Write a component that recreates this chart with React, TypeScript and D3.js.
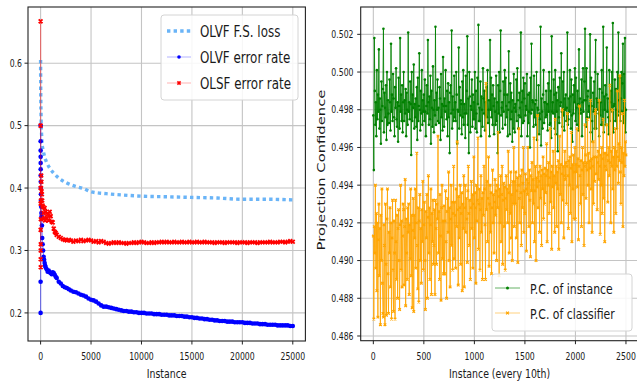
import React from 'react';
import * as d3 from 'd3';

const W = 637;
const H = 381;

// ---------- Left panel data ----------
const lossInstances = [0, 5, 10, 20, 40, 60, 100, 150, 250, 400, 630, 900, 1290, 1800, 2600, 3400, 4260, 5000, 6500, 8000, 10000, 12500, 15000, 17500, 20000, 22500, 25000];
const olvfFSLoss = [0.605, 0.58, 0.56, 0.54, 0.52, 0.5, 0.485, 0.47, 0.461, 0.45, 0.44, 0.432, 0.424, 0.416, 0.408, 0.403, 0.399, 0.394, 0.391, 0.389, 0.387, 0.386, 0.385, 0.384, 0.382, 0.382, 0.381];

const errHeadInstances = [0, 1, 2, 3, 4, 5, 6, 8, 10, 15, 20, 30, 40, 60, 80, 100, 130, 160, 200, 250, 300, 350, 400, 450, 500, 600, 700, 800, 900, 1000, 1100, 1200, 1300, 1400, 1500, 1600, 1800, 2000, 2200, 2400, 2600, 2800];
const errTailStart = 3000;
const errTailStep = 250;

const olvfErrorRate = [
  0.2, 0.25, 0.5, 0.475, 0.46, 0.45, 0.44, 0.43, 0.42, 0.41, 0.4, 0.39, 0.38, 0.37, 0.36, 0.355, 0.34, 0.32, 0.31, 0.3, 0.29,
  0.285, 0.28, 0.276, 0.273, 0.27, 0.266, 0.268, 0.265, 0.264, 0.262, 0.265, 0.264, 0.261, 0.258, 0.256, 0.25, 0.247, 0.243, 0.241, 0.24, 0.238,
  // tail from 3000 every 250
  0.236, 0.234, 0.233, 0.231, 0.229, 0.228, 0.226, 0.223, 0.221, 0.22, 0.218, 0.215, 0.212, 0.21, 0.21, 0.209, 0.208, 0.207, 0.206, 0.205,
  0.204, 0.203, 0.203, 0.202, 0.202, 0.201, 0.201, 0.2, 0.2, 0.2, 0.199, 0.199, 0.199, 0.198, 0.198, 0.198, 0.197, 0.197, 0.197, 0.196,
  0.196, 0.196, 0.195, 0.195, 0.195, 0.194, 0.194, 0.193, 0.193, 0.192, 0.192, 0.191, 0.191, 0.19, 0.19, 0.189, 0.189, 0.188, 0.188, 0.187,
  0.187, 0.187, 0.186, 0.186, 0.186, 0.185, 0.185, 0.185, 0.185, 0.184, 0.184, 0.184, 0.183, 0.183, 0.183, 0.182, 0.182, 0.182, 0.181, 0.181,
  0.181, 0.181, 0.18, 0.18, 0.18, 0.18, 0.18, 0.179, 0.179,
];

const olsfErrorRate = [
  0.667, 0.5, 0.4, 0.333, 0.286, 0.375, 0.333, 0.3, 0.273, 0.31, 0.35, 0.38, 0.4, 0.42, 0.41, 0.395, 0.39, 0.38, 0.372, 0.37, 0.36,
  0.352, 0.368, 0.348, 0.362, 0.352, 0.358, 0.348, 0.362, 0.355, 0.346, 0.345, 0.335, 0.33, 0.328, 0.325, 0.322, 0.32, 0.318, 0.317, 0.316, 0.317,
  // tail from 3000 every 250
  0.316, 0.314, 0.316, 0.315, 0.317, 0.315, 0.316, 0.317, 0.316, 0.314, 0.315, 0.313, 0.315, 0.314, 0.312, 0.311, 0.312, 0.313, 0.312, 0.313,
  0.312, 0.312, 0.311, 0.312, 0.312, 0.313, 0.312, 0.313, 0.314, 0.313, 0.312, 0.312, 0.313, 0.312, 0.313, 0.313, 0.314, 0.313, 0.314, 0.313,
  0.313, 0.314, 0.313, 0.313, 0.314, 0.313, 0.313, 0.314, 0.313, 0.313, 0.314, 0.313, 0.313, 0.314, 0.313, 0.313, 0.313, 0.312, 0.313, 0.313,
  0.313, 0.312, 0.313, 0.313, 0.313, 0.313, 0.312, 0.313, 0.313, 0.313, 0.312, 0.313, 0.313, 0.313, 0.312, 0.313, 0.313, 0.313, 0.313, 0.314,
  0.313, 0.313, 0.313, 0.314, 0.314, 0.313, 0.314, 0.315, 0.314,
];

const leftXTicks = [0, 5000, 10000, 15000, 20000, 25000];
const leftYTicks = [0.2, 0.3, 0.4, 0.5, 0.6];

// ---------- Right panel data (units of 1e-4 above the base) ----------
const pcMaxInstance = 2500;
const pcInstanceBase = 0.49;
const pcInstanceUnits = [
  77, 48, 118, 90, 72, 84, 66, 101, 75, 88, 79, 112, 70, 86, 80, 62, 95, 74, 82, 91,
  123, 68, 89, 81, 76, 93, 64, 100, 72, 85, 78, 73, 96, 84, 69, 115, 79, 88, 74, 99,
  86, 76, 66, 92, 81, 102, 75, 71, 84, 63, 97, 82, 70, 118, 79, 88, 74, 93, 68, 84,
  100, 74, 85, 78, 91, 66, 89, 80, 72, 121, 79, 84, 75, 95, 83, 56, 100, 74, 88, 81,
  104, 70, 83, 76, 86, 71, 92, 64, 97, 74, 82, 110, 80, 69, 90, 78, 101, 72, 85, 79,
  88, 74, 96, 79, 66, 82, 93, 78, 117, 84, 72, 87, 75, 98, 62, 90, 81, 71, 103, 80,
  68, 85, 77, 124, 72, 89, 80, 96, 74, 81, 73, 92, 86, 64, 99, 76, 83, 69, 108, 82,
  71, 86, 79, 101, 82, 75, 90, 66, 94, 76, 84, 57, 89, 93, 78, 122, 70, 87, 80, 74,
  98, 76, 84, 74, 100, 88, 62, 80, 79, 113, 70, 92, 77, 85, 83, 67, 95, 76, 101, 72,
  83, 78, 65, 98, 78, 90, 119, 72, 86, 57, 100, 87, 68, 82, 80, 96, 71, 88, 75, 84,
  75, 100, 70, 90, 78, 68, 97, 83, 125, 74, 81, 74, 95, 66, 87, 80, 71, 102, 86, 78,
  90, 69, 84, 77, 92, 76, 101, 73, 80, 85, 66, 117, 80, 97, 76, 88, 72, 93, 82, 67,
  86, 79, 72, 98, 74, 84, 57, 93, 78, 100, 68, 90, 122, 77, 81, 84, 70, 95, 79, 88,
  101, 72, 97, 82, 76, 88, 66, 80, 111, 84, 67, 94, 75, 89, 79, 63, 85, 70, 99, 81,
  68, 83, 79, 96, 74, 102, 85, 70, 77, 89, 81, 76, 121, 66, 84, 90, 73, 97, 74, 86,
  94, 77, 82, 80, 99, 66, 88, 73, 79, 89, 60, 97, 78, 115, 80, 85, 84, 71, 98, 76,
  83, 72, 85, 100, 64, 81, 80, 93, 67, 78, 75, 124, 61, 86, 79, 70, 88, 101, 73, 84,
  84, 76, 90, 77, 83, 69, 94, 79, 100, 72, 73, 90, 65, 119, 79, 84, 78, 96, 88, 70,
  101, 67, 89, 79, 85, 58, 92, 76, 73, 97, 82, 84, 110, 79, 71, 95, 77, 100, 69, 86,
  80, 88, 74, 81, 121, 72, 75, 86, 79, 101, 87, 70, 96, 77, 63, 88, 78, 93, 84, 102,
  74, 97, 81, 72, 90, 83, 69, 112, 78, 86, 80, 78, 96, 66, 84, 102, 79, 85, 95, 123,
  85, 71, 102, 76, 87, 90, 79, 82, 76, 120, 68, 97, 82, 74, 63, 89, 79, 95, 70, 100,
  117, 70, 86, 80, 99, 84, 78, 66, 91, 77, 84, 72, 101, 89, 72, 124, 68, 87, 80, 93,
  72, 88, 113, 79, 86, 76, 67, 101, 74, 84, 90, 80, 100, 79, 126, 68, 82, 83, 96, 74,
  91, 80, 70, 100, 77, 121, 85, 79, 97, 74, 86, 100, 79, 94, 115, 73, 99, 81, 118, 68,
  80,
];

const pcClassifierBase = 0.48;
const pcClassifierUnits = [
  113, 69, 118, 104, 140, 96, 125, 84, 120, 70, 111, 130, 92, 117, 66, 124, 100, 138, 88, 72,
  70, 119, 108, 66, 130, 98, 71, 122, 138, 93, 72, 115, 104, 128, 86, 120, 69, 112, 132, 95,
  73, 121, 104, 69, 132, 110, 90, 124, 80, 117, 127, 100, 74, 119, 140, 95, 121, 86, 113, 130,
  127, 87, 118, 143, 76, 122, 104, 90, 128, 115, 130, 82, 119, 101, 138, 92, 124, 75, 116, 133,
  73, 124, 112, 138, 96, 120, 157, 108, 85, 128, 78, 121, 135, 100, 117, 88, 127, 110, 142, 95,
  119, 131, 100, 74, 126, 112, 135, 80, 123, 145, 104, 128, 90, 119, 138, 82, 125, 110, 132, 98,
  108, 127, 82, 132, 117, 98, 130, 122, 166, 104, 126, 90, 135, 113, 79, 128, 140, 101, 121, 93,
  129, 93, 121, 137, 110, 80, 126, 133, 115, 147, 100, 128, 86, 122, 140, 108, 131, 95, 125, 150,
  101, 131, 124, 96, 138, 118, 163, 127, 87, 134, 112, 128, 140, 98, 125, 136, 84, 130, 117, 145,
  86, 128, 140, 115, 133, 122, 99, 137, 150, 125, 108, 132, 90, 128, 142, 117, 135, 96, 130, 155,
  112, 136, 128, 88, 140, 121, 132, 165, 106, 130, 138, 95, 127, 145, 115, 133, 90, 136, 124, 150,
  138, 119, 90, 194, 127, 142, 110, 133, 155, 97, 130, 140, 115, 136, 93, 128, 148, 120, 135, 104,
  131, 143, 124, 137, 100, 140, 128, 168, 134, 92, 138, 120, 145, 110, 135, 150, 98, 132, 141, 118,
  139, 95, 133, 145, 127, 138, 120, 158, 136, 104, 140, 125, 147, 112, 135, 100, 142, 130, 160, 118,
  142, 130, 147, 112, 137, 144, 99, 140, 170, 133, 120, 145, 136, 108, 148, 128, 141, 160, 115, 137,
  125, 146, 138, 105, 143, 135, 160, 141, 118, 148, 132, 102, 145, 137, 152, 120, 143, 130, 165, 110,
  137, 150, 100, 144, 139, 177, 128, 147, 142, 115, 150, 133, 145, 108, 148, 138, 155, 122, 146, 130,
  149, 136, 145, 162, 110, 148, 140, 152, 125, 144, 170, 131, 147, 106, 150, 139, 158, 128, 145, 115,
  175, 141, 150, 118, 147, 138, 153, 106, 149, 166, 135, 151, 120, 146, 180, 132, 150, 112, 145, 158,
  143, 152, 130, 150, 178, 145, 117, 153, 140, 155, 125, 149, 168, 110, 151, 138, 156, 122, 147, 160,
  122, 151, 147, 170, 139, 154, 111, 150, 182, 145, 130, 153, 118, 148, 160, 135, 152, 108, 150, 172,
  156, 133, 152, 148, 175, 140, 157, 120, 153, 149, 185, 138, 154, 115, 150, 163, 130, 155, 142, 178,
  180, 146, 155, 127, 152, 158, 143, 185, 150, 114, 156, 140, 160, 125, 154, 175, 133, 157, 110, 150,
  157, 148, 172, 156, 131, 153, 160, 145, 193, 152, 120, 158, 150, 180, 138, 155, 115, 160, 148, 170,
  125, 158, 150, 190, 155, 141, 162, 153, 198, 147, 130, 160, 152, 178, 118, 157, 145, 185, 150, 163,
  156,
];

const rightXTicks = [0, 500, 1000, 1500, 2000, 2500];
const rightYTicks = [0.486, 0.488, 0.49, 0.492, 0.494, 0.496, 0.498, 0.5, 0.502];

// ---------- helpers ----------
const FONT = 'DejaVu Sans';
const SX = 0.76;

type TP = { x: number; y: number; size: number; anchor?: string; sx?: number; rotate?: number; fill?: string; children: React.ReactNode };
function SText({ x, y, size, anchor = 'start', sx = SX, rotate = 0, fill = '#1a1a1a', children }: TP) {
  const t = `translate(${x},${y}) scale(${sx},1)` + (rotate ? ` rotate(${rotate})` : '');
  return (
    <text transform={t} fontSize={size} fontFamily={FONT} textAnchor={anchor as any} fill={fill}>
      {children}
    </text>
  );
}

function crossPath(pts: [number, number][], s: number) {
  return pts.map(([x, y]) => `M${x - s},${y - s}L${x + s},${y + s}M${x - s},${y + s}L${x + s},${y - s}`).join('');
}

function errPoints(vals: number[]): [number, number][] {
  return vals.map((v, i) => [
    i < errHeadInstances.length ? errHeadInstances[i] : errTailStart + (i - errHeadInstances.length) * errTailStep,
    v,
  ]);
}

function pcPoints(units: number[], base: number): [number, number][] {
  const step = pcMaxInstance / (units.length - 1);
  return units.map((u, i) => [i * step, base + u / 10000]);
}

export default function App() {
  const L = { x0: 28, x1: 305.4, y0: 7, y1: 341 };
  const lx = d3.scaleLinear().domain([-1250, 26250]).range([L.x0, L.x1]);
  const ly = d3.scaleLinear().domain([0.155, 0.69]).range([L.y1, L.y0]);

  const R = { x0: 360.7, x1: 638.6, y0: 7, y1: 340.7 };
  const rx = d3.scaleLinear().domain([-125, 2625]).range([R.x0, R.x1]);
  const ry = d3.scaleLinear().domain([0.48575, 0.50345]).range([R.y1, R.y0]);

  const lossPts: [number, number][] = lossInstances.map((x, i) => [x, olvfFSLoss[i]]);
  const bluePts = errPoints(olvfErrorRate);
  const redPts = errPoints(olsfErrorRate);

  const lLine = d3.line<[number, number]>().x(d => lx(d[0])).y(d => ly(d[1]));
  const lLossLine = d3.line<[number, number]>().x(d => lx(d[0])).y(d => ly(d[1])).curve(d3.curveMonotoneX);

  const greenPts = pcPoints(pcInstanceUnits, pcInstanceBase);
  const orangePts = pcPoints(pcClassifierUnits, pcClassifierBase);
  const rLine = d3.line<[number, number]>().x(d => rx(d[0])).y(d => ry(d[1]));

  const gridColor = '#c4c4c4';
  const spine = '#222';

  const bluePx: [number, number][] = bluePts.map(d => [lx(d[0]), ly(d[1])]);
  const redPx: [number, number][] = redPts.map(d => [lx(d[0]), ly(d[1])]);
  const orangePx: [number, number][] = orangePts.map(d => [rx(d[0]), ry(d[1])]);

  const lossColor = '#6ab4f7';

  return (
    <svg width={W} height={H} style={{ position: 'absolute', left: 0, top: 0, background: '#fff' }}>
      <defs>
        <clipPath id="clipL"><rect x={L.x0} y={L.y0} width={L.x1 - L.x0} height={L.y1 - L.y0} /></clipPath>
        <clipPath id="clipR"><rect x={R.x0} y={R.y0} width={R.x1 - R.x0} height={R.y1 - R.y0} /></clipPath>
      </defs>
      <rect x={0} y={0} width={W} height={H} fill="#fff" />

      {/* ---------------- LEFT PANEL ---------------- */}
      <g>
        {leftXTicks.map(t => (
          <line key={'lgx' + t} x1={lx(t)} x2={lx(t)} y1={L.y0} y2={L.y1} stroke={gridColor} strokeWidth={1.1} />
        ))}
        {leftYTicks.map(t => (
          <line key={'lgy' + t} x1={L.x0} x2={L.x1} y1={ly(t)} y2={ly(t)} stroke={gridColor} strokeWidth={1.1} />
        ))}
        <g clipPath="url(#clipL)">
          <path d={lLossLine(lossPts) || ''} fill="none" stroke={lossColor} strokeWidth={3.4} strokeDasharray="3.4,3.2" />
          <path d={lLine(bluePts) || ''} fill="none" stroke="#0000ff" strokeOpacity={0.45} strokeWidth={1.2} />
          {bluePx.map((p, i) => (
            <circle key={'b' + i} cx={p[0]} cy={p[1]} r={2.3} fill="#0000ff" />
          ))}
          <path d={lLine(redPts) || ''} fill="none" stroke="#ff0000" strokeOpacity={0.45} strokeWidth={1.2} />
          <path d={crossPath(redPx, 1.9)} fill="none" stroke="#ff0000" strokeWidth={1.8} />
        </g>
        <rect x={L.x0} y={L.y0} width={L.x1 - L.x0} height={L.y1 - L.y0} fill="none" stroke={spine} strokeWidth={1.1} />
        {leftXTicks.map(t => (
          <g key={'lxt' + t}>
            <line x1={lx(t)} x2={lx(t)} y1={L.y1} y2={L.y1 + 3.5} stroke={spine} strokeWidth={1} />
            <SText x={lx(t)} y={360} size={10.2} anchor="middle">{String(t)}</SText>
          </g>
        ))}
        {leftYTicks.map(t => (
          <g key={'lyt' + t}>
            <line x1={L.x0 - 3.5} x2={L.x0} y1={ly(t)} y2={ly(t)} stroke={spine} strokeWidth={1} />
            <SText x={22} y={ly(t) + 3.7} size={10.2} anchor="end">{d3.format('.1f')(t)}</SText>
          </g>
        ))}
        <SText x={(L.x0 + L.x1) / 2} y={377.5} size={12.5} anchor="middle" sx={0.75}>Instance</SText>

        <rect x={161} y={15} width={137} height={85} rx={3} fill="#fff" fillOpacity={0.85} stroke="#d4d4d4" strokeWidth={1} />
        <line x1={167} x2={191} y1={31} y2={31} stroke={lossColor} strokeWidth={3.4} strokeDasharray="3.4,3.2" />
        <SText x={200} y={37} size={16} sx={0.745}>OLVF F.S. loss</SText>
        <line x1={167} x2={191} y1={57} y2={57} stroke="#0000ff" strokeOpacity={0.3} strokeWidth={1} />
        <circle cx={179} cy={57} r={1.8} fill="#0000ff" />
        <SText x={200} y={63} size={16} sx={0.745}>OLVF error rate</SText>
        <line x1={167} x2={191} y1={83} y2={83} stroke="#ff0000" strokeOpacity={0.3} strokeWidth={1} />
        <path d={crossPath([[179, 83]], 1.6)} stroke="#ff0000" strokeWidth={1.6} />
        <SText x={200} y={89} size={16} sx={0.745}>OLSF error rate</SText>
      </g>

      {/* ---------------- RIGHT PANEL ---------------- */}
      <g>
        {rightXTicks.map(t => (
          <line key={'rgx' + t} x1={rx(t)} x2={rx(t)} y1={R.y0} y2={R.y1} stroke={gridColor} strokeWidth={1.1} />
        ))}
        {rightYTicks.map(t => (
          <line key={'rgy' + t} x1={R.x0} x2={R.x1} y1={ry(t)} y2={ry(t)} stroke={gridColor} strokeWidth={1.1} />
        ))}
        <g clipPath="url(#clipR)">
          <path d={rLine(greenPts) || ''} fill="none" stroke="#008000" strokeOpacity={0.85} strokeWidth={1} />
          {greenPts.map((d, i) => (
            <circle key={'g' + i} cx={rx(d[0])} cy={ry(d[1])} r={1.3} fill="#008000" />
          ))}
          <path d={rLine(orangePts) || ''} fill="none" stroke="#ffa500" strokeOpacity={0.85} strokeWidth={1} />
          <path d={crossPath(orangePx, 1.3)} fill="none" stroke="#ffa500" strokeWidth={1.2} />
        </g>
        <rect x={R.x0} y={R.y0} width={R.x1 - R.x0} height={R.y1 - R.y0} fill="none" stroke={spine} strokeWidth={1.1} />
        {rightXTicks.map(t => (
          <g key={'rxt' + t}>
            <line x1={rx(t)} x2={rx(t)} y1={R.y1} y2={R.y1 + 3.5} stroke={spine} strokeWidth={1} />
            <SText x={rx(t)} y={360} size={10.2} anchor="middle">{String(t)}</SText>
          </g>
        ))}
        {rightYTicks.map(t => (
          <g key={'ryt' + t}>
            <line x1={R.x0 - 3.5} x2={R.x0} y1={ry(t)} y2={ry(t)} stroke={spine} strokeWidth={1} />
            <SText x={353.5} y={ry(t) + 3.7} size={10.2} anchor="end">{d3.format('.3f')(t)}</SText>
          </g>
        ))}
        <SText x={499.6} y={377.5} size={12.5} anchor="middle" sx={0.75}>Instance (every 10th)</SText>
        <SText x={325} y={170} size={14.8} anchor="middle" sx={0.76} rotate={-90}>Projection Confidence</SText>

        <rect x={492} y={274} width={140} height={57} rx={3} fill="#fff" fillOpacity={0.85} stroke="#d4d4d4" strokeWidth={1} />
        <line x1={495} x2={520} y1={288} y2={288} stroke="#008000" strokeOpacity={0.6} strokeWidth={1} />
        <circle cx={507.5} cy={288} r={1.5} fill="#008000" />
        <SText x={530} y={293.5} size={14.6} sx={0.745}>P.C. of instance</SText>
        <line x1={495} x2={520} y1={313} y2={313} stroke="#ffa500" strokeOpacity={0.5} strokeWidth={1} />
        <path d={crossPath([[507.5, 313]], 1.4)} stroke="#ffa500" strokeWidth={1.3} />
        <SText x={530} y={318.5} size={14.6} sx={0.745}>P.C. of classifier</SText>
      </g>
    </svg>
  );
}
